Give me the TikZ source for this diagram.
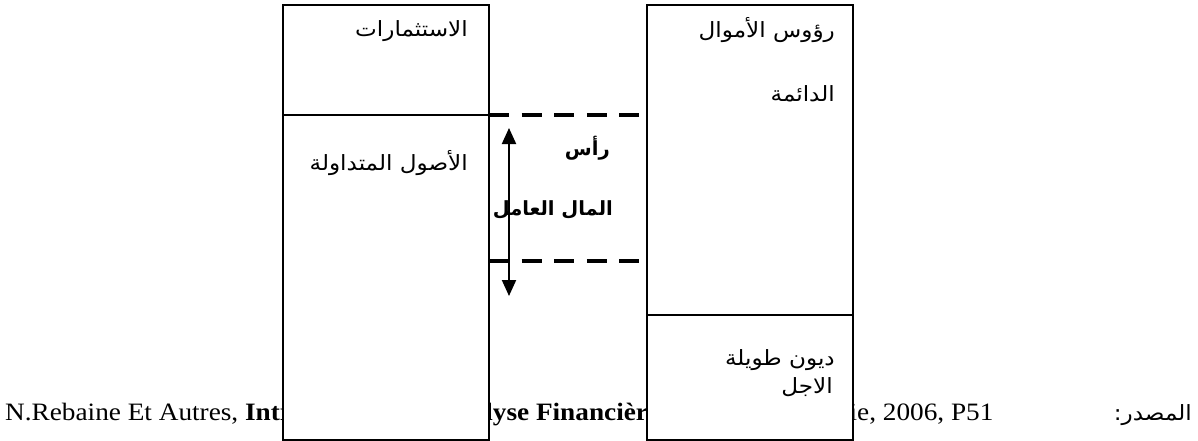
\documentclass[tikz,border=0pt]{standalone}
\usepackage{fontspec}
\setmainfont[FakeStretch=1.09]{Liberation Serif}
\newfontfamily\arabicfont[Script=Arabic, FakeStretch=1.1]{DejaVu Sans}
\newfontfamily\arabicbold[Script=Arabic]{DejaVu Sans Bold}
\TeXXeTstate=1
\usetikzlibrary{arrows.meta}

\tikzset{
  block/.style={draw=black, line width=1.6pt, fill=white},
  artext/.style={anchor=base east, inner sep=0pt, font=\arabicfont\fontsize{21}{24}\selectfont},
  arbold/.style={anchor=base east, inner sep=0pt, font=\arabicbold\fontsize{19.5}{22}\selectfont},
  caption/.style={anchor=base west, inner sep=0pt, font=\fontsize{25}{28}\selectfont},
  gapline/.style={line width=4pt, dash pattern=on 20pt off 12.6pt},
  span/.style={line width=2pt, {Triangle[length=16pt,width=14pt]}-{Triangle[length=16pt,width=14pt]}}
}

\begin{document}
\begin{tikzpicture}[x=1pt,y=-1pt]
  \useasboundingbox (0,0) rectangle (1198,441);
  \clip (0,0) rectangle (1198,441);

  % source line, partly hidden behind the two columns
  \node[caption] (src) at (5,420)
    {N.Rebaine Et Autres, \textbf{Introduction à l'Analyse Financière}, Ed. Berti, Algérie, 2006, P51};
  \node[artext] (srclabel) at (1192,420) {\beginR المصدر:\endR};

  % assets column
  \draw[block] (283,5) rectangle (489,115);
  \draw[block] (283,115) rectangle (489,440);
  \coordinate (assetsplit) at (489,115);
  \coordinate (ca) at (489,261);

  % liabilities column
  \draw[block] (647,5) rectangle (853,315);
  \draw[block] (647,315) rectangle (853,440);

  \node[artext] (inv) at (468,37) {\beginR الاستثمارات\endR};
  \node[artext] (cur) at (468,170) {\beginR الأصول المتداولة\endR};
  \node[artext] (perm1) at (835,38) {\beginR رؤوس الأموال\endR};
  \node[artext] (perm2) at (835,102) {\beginR الدائمة\endR};
  \node[artext] (debt1) at (835,365) {\beginR ديون طويلة\endR};
  \node[artext] (debt2) at (833,393) {\beginR الاجل\endR};

  % working capital gap
  \coordinate (topend) at (640,115);
  \coordinate (botend) at (640,261);
  \draw[gapline] (assetsplit) -- (topend);
  \draw[gapline] (ca) -- (botend);

  \coordinate (up) at (509,128);
  \coordinate (down) at (509,296);
  \draw[span] (down) -- (up);

  \node[arbold] (wc1) at (610,155) {\beginR رأس\endR};
  \node[arbold] (wc2) at (613,215) {\beginR المال العامل\endR};
\end{tikzpicture}
\end{document}
